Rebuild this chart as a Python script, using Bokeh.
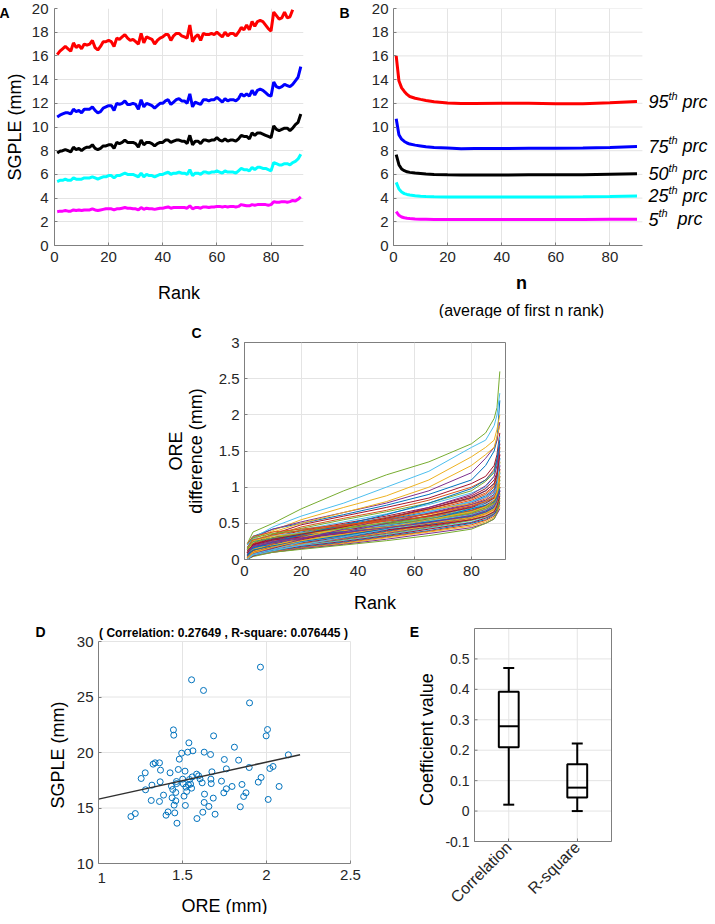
import math
from bokeh.plotting import figure
from bokeh.models import FixedTicker, Range1d, CustomJSTickFormatter, LinearAxis, Title
from bokeh.layouts import column, row
from bokeh.embed import file_html
from bokeh.resources import INLINE
from bokeh.core.properties import value

FONT = "Liberation Sans"
AX = "#7f7f7f"
TXT = "#262626"
GRID = "#e4e4e4"

# ---------------- Panel A data ----------------
rank_a = list(range(1, 92))
a_red = [16.1, 16.4, 16.6, 16.8, 16.6, 16.4, 17.1, 16.7, 16.9, 16.6,
         17.0, 16.9, 17.0, 17.3, 16.7, 16.5, 16.8, 17.2, 17.2, 17.3,
         17.2, 16.8, 17.5, 17.4, 17.6, 17.8, 17.5, 17.3, 17.4, 17.2,
         17.0, 17.9, 17.1, 17.6, 17.5, 17.4, 17.0, 17.3, 17.5, 17.6,
         17.8, 17.8, 17.3, 17.7, 17.9, 17.9, 17.7, 17.6, 17.5, 18.6,
         17.2, 17.6, 17.8, 17.3, 17.9, 17.8, 17.8, 17.9, 17.8, 18.0,
         17.8, 17.6, 18.0, 17.7, 17.9, 17.9, 17.7, 18.0, 18.4, 18.2,
         18.6, 18.2, 18.9, 18.5, 18.9, 19.0, 18.9, 18.6, 18.3, 18.1,
         19.7, 19.4, 19.1, 19.2, 19.7, 19.2, 19.3, 19.9]
a_blue = [10.85, 11.0, 11.1, 11.2, 11.2, 11.1, 11.5, 11.3, 11.4, 11.2,
          11.5, 11.5, 11.5, 11.7, 11.4, 11.2, 11.3, 11.6, 11.7, 11.8,
          11.8, 11.4, 12.0, 11.9, 12.0, 12.2, 11.9, 11.9, 12.0, 11.9,
          11.5, 12.3, 11.7, 12.0, 11.9, 11.8, 11.6, 11.8, 12.0, 12.0,
          12.2, 12.3, 11.9, 12.1, 12.3, 12.4, 12.2, 12.2, 12.0, 12.8,
          11.7, 12.1, 12.0, 11.9, 12.3, 12.3, 12.2, 12.3, 12.3, 12.5,
          12.3, 12.1, 12.4, 12.2, 12.3, 12.3, 12.2, 12.4, 12.8, 12.6,
          12.8, 12.6, 13.1, 12.7, 13.1, 13.2, 13.1, 12.9, 12.7, 12.6,
          13.8, 13.4, 13.3, 13.4, 13.6, 13.5, 13.4, 13.6, 13.9, 14.2,
          15.1]
a_black = [7.8, 7.95, 8.0, 8.1, 8.0, 7.9, 8.3, 8.1, 8.2, 8.0,
           8.2, 8.3, 8.3, 8.5, 8.2, 8.1, 8.2, 8.4, 8.4, 8.5,
           8.5, 8.2, 8.7, 8.6, 8.7, 8.9, 8.7, 8.7, 8.7, 8.6,
           8.3, 8.9, 8.5, 8.7, 8.7, 8.6, 8.4, 8.6, 8.7, 8.7,
           8.9, 8.9, 8.7, 8.8, 8.9, 8.9, 8.8, 8.8, 8.6, 9.3,
           8.5, 8.8, 8.8, 8.6, 8.9, 8.9, 8.8, 8.9, 8.9, 9.1,
           8.9, 8.8, 9.0, 8.8, 8.9, 8.9, 8.8, 9.0, 9.3, 9.2,
           9.2, 9.0, 9.5, 9.3, 9.5, 9.5, 9.4, 9.3, 9.2, 9.1,
           10.1, 9.8, 9.7, 9.8, 9.9, 9.9, 9.7, 9.9, 10.2, 10.4,
           11.1]
a_cyan = [5.4, 5.5, 5.5, 5.6, 5.5, 5.5, 5.7, 5.6, 5.6, 5.6,
          5.7, 5.7, 5.7, 5.8, 5.7, 5.6, 5.7, 5.8, 5.8, 5.9,
          5.9, 5.7, 5.9, 5.9, 6.0, 6.1, 6.0, 6.0, 6.0, 5.9,
          5.8, 6.1, 5.8, 6.0, 5.9, 5.9, 5.8, 5.9, 6.0, 6.0,
          6.1, 6.2, 6.0, 6.1, 6.1, 6.2, 6.1, 6.1, 6.0, 6.4,
          5.9, 6.1, 6.1, 6.0, 6.2, 6.2, 6.1, 6.2, 6.2, 6.3,
          6.2, 6.1, 6.3, 6.2, 6.2, 6.2, 6.1, 6.3, 6.5, 6.4,
          6.4, 6.3, 6.6, 6.4, 6.6, 6.6, 6.5, 6.5, 6.4, 6.3,
          7.0, 6.9, 6.8, 6.8, 6.9, 6.9, 6.8, 7.0, 7.1, 7.3,
          7.7]
a_mag = [2.85, 2.9, 2.9, 2.95, 2.9, 2.9, 3.0, 2.95, 3.0, 2.95,
         3.0, 3.0, 3.0, 3.1, 3.0, 2.95, 3.0, 3.05, 3.1, 3.1,
         3.1, 3.0, 3.1, 3.1, 3.15, 3.2, 3.15, 3.15, 3.1, 3.1,
         3.0, 3.2, 3.05, 3.15, 3.1, 3.1, 3.05, 3.1, 3.15, 3.15,
         3.2, 3.25, 3.15, 3.2, 3.2, 3.2, 3.2, 3.2, 3.15, 3.35,
         3.1, 3.2, 3.2, 3.15, 3.25, 3.25, 3.2, 3.25, 3.25, 3.3,
         3.3, 3.25, 3.3, 3.25, 3.3, 3.3, 3.25, 3.3, 3.45, 3.4,
         3.35, 3.35, 3.45, 3.4, 3.45, 3.45, 3.45, 3.45, 3.4, 3.45,
         3.7, 3.65, 3.65, 3.7, 3.7, 3.65, 3.7, 3.8, 3.75, 3.9,
         4.1]

# ---------------- Panel B data ----------------
n_b = [1, 2, 3, 4, 5, 6, 8, 10, 12, 15, 20, 25, 30, 40, 50, 60, 70, 80, 90]
b_red = [16.0, 13.9, 13.3, 13.0, 12.75, 12.57, 12.43, 12.33, 12.24, 12.13,
         12.03, 11.98, 11.98, 12.0, 12.0, 11.97, 11.97, 12.05, 12.15]
b_blue = [10.7, 9.35, 8.97, 8.78, 8.65, 8.56, 8.47, 8.4, 8.33, 8.27,
          8.22, 8.16, 8.18, 8.18, 8.2, 8.2, 8.22, 8.28, 8.36]
b_black = [7.66, 6.82, 6.45, 6.31, 6.22, 6.17, 6.11, 6.07, 6.03, 6.0,
           5.97, 5.95, 5.95, 5.95, 5.96, 5.96, 5.98, 6.02, 6.06]
b_cyan = [5.33, 4.77, 4.52, 4.38, 4.31, 4.26, 4.2, 4.15, 4.13, 4.11,
          4.1, 4.1, 4.1, 4.1, 4.1, 4.1, 4.11, 4.14, 4.18]
b_mag = [2.86, 2.55, 2.41, 2.34, 2.3, 2.27, 2.24, 2.22, 2.21, 2.19,
         2.19, 2.19, 2.19, 2.19, 2.19, 2.19, 2.2, 2.21, 2.22]
prc_numbers = ["95", "75", "50", "25", "5"]

# ---------------- Panel C data ----------------
rank_c = [1, 3, 10, 20, 35, 50, 65, 80, 85, 88, 89, 90]
c_lines = [
    [0.20, 0.32, 0.42, 0.50, 0.62, 0.75, 0.90, 1.10, 1.30, 1.50, 1.65, 2.20],
    [0.05, 0.20, 0.33, 0.45, 0.57, 0.68, 0.82, 1.00, 1.10, 1.25, 1.40, 1.60],
    [0.12, 0.28, 0.40, 0.55, 0.72, 0.88, 1.10, 1.42, 1.55, 1.65, 1.80, 2.00],
    [0.14, 0.30, 0.42, 0.52, 0.65, 0.78, 0.95, 1.20, 1.40, 1.55, 1.65, 1.90],
    [0.22, 0.38, 0.50, 0.70, 0.95, 1.17, 1.35, 1.60, 1.75, 1.95, 2.10, 2.60],
    [0.15, 0.30, 0.45, 0.60, 0.78, 1.00, 1.22, 1.55, 1.65, 1.85, 2.00, 2.30],
    [0.10, 0.22, 0.35, 0.48, 0.60, 0.72, 0.85, 1.05, 1.15, 1.30, 1.45, 1.75],
    [0.06, 0.18, 0.28, 0.38, 0.48, 0.58, 0.70, 0.85, 0.95, 1.05, 1.18, 1.50],
    [0.15, 0.22, 0.30, 0.37, 0.47, 0.56, 0.68, 0.82, 0.90, 1.00, 1.10, 1.35],
    [0.10, 0.25, 0.38, 0.50, 0.65, 0.80, 1.00, 1.30, 1.45, 1.55, 1.70, 1.85],
    [0.10, 0.18, 0.26, 0.35, 0.45, 0.54, 0.64, 0.78, 0.86, 0.95, 1.05, 1.30],
    [0.12, 0.25, 0.35, 0.43, 0.55, 0.66, 0.78, 0.95, 1.08, 1.20, 1.35, 1.55],
    [0.08, 0.20, 0.30, 0.41, 0.52, 0.63, 0.76, 0.92, 1.00, 1.15, 1.30, 1.70],
    [0.10, 0.20, 0.30, 0.40, 0.50, 0.60, 0.72, 0.88, 0.98, 1.10, 1.20, 1.45],
    [0.05, 0.15, 0.27, 0.36, 0.46, 0.55, 0.66, 0.80, 0.88, 0.97, 1.08, 1.40],
    [0.03, 0.14, 0.25, 0.34, 0.44, 0.53, 0.63, 0.76, 0.84, 0.93, 1.02, 1.25],
    [0.12, 0.18, 0.25, 0.33, 0.42, 0.51, 0.61, 0.74, 0.82, 0.90, 1.00, 1.20],
    [0.07, 0.15, 0.24, 0.32, 0.41, 0.50, 0.60, 0.73, 0.80, 0.88, 0.97, 1.15],
    [0.04, 0.13, 0.23, 0.31, 0.40, 0.49, 0.59, 0.71, 0.78, 0.86, 0.95, 1.35],
    [0.09, 0.16, 0.22, 0.30, 0.39, 0.48, 0.58, 0.70, 0.77, 0.84, 0.92, 1.10],
    [0.02, 0.12, 0.21, 0.29, 0.38, 0.47, 0.56, 0.68, 0.75, 0.82, 0.90, 1.05],
    [0.11, 0.17, 0.21, 0.28, 0.37, 0.46, 0.55, 0.67, 0.74, 0.80, 0.88, 1.20],
    [0.05, 0.12, 0.20, 0.27, 0.36, 0.45, 0.54, 0.65, 0.72, 0.79, 0.86, 1.00],
    [0.08, 0.14, 0.20, 0.27, 0.35, 0.44, 0.53, 0.64, 0.70, 0.77, 0.85, 1.10],
    [0.00, 0.10, 0.19, 0.26, 0.34, 0.43, 0.52, 0.63, 0.69, 0.76, 0.83, 0.95],
    [0.06, 0.12, 0.18, 0.25, 0.33, 0.42, 0.51, 0.62, 0.68, 0.75, 0.82, 1.15],
    [0.03, 0.10, 0.18, 0.24, 0.32, 0.41, 0.50, 0.60, 0.66, 0.73, 0.80, 0.90],
    [0.07, 0.12, 0.17, 0.23, 0.31, 0.40, 0.49, 0.59, 0.65, 0.72, 0.79, 1.00],
    [0.01, 0.09, 0.16, 0.22, 0.30, 0.39, 0.48, 0.58, 0.64, 0.70, 0.77, 0.88],
    [0.05, 0.10, 0.16, 0.22, 0.29, 0.38, 0.47, 0.57, 0.63, 0.69, 0.75, 0.92],
    [0.02, 0.08, 0.15, 0.21, 0.28, 0.37, 0.46, 0.56, 0.62, 0.68, 0.74, 0.85],
    [0.04, 0.09, 0.14, 0.20, 0.28, 0.36, 0.45, 0.55, 0.60, 0.66, 0.72, 0.95],
    [0.00, 0.07, 0.13, 0.19, 0.27, 0.35, 0.44, 0.54, 0.59, 0.65, 0.71, 0.82],
    [0.03, 0.08, 0.13, 0.19, 0.26, 0.34, 0.43, 0.52, 0.58, 0.64, 0.70, 0.90],
    [0.01, 0.06, 0.12, 0.18, 0.25, 0.33, 0.42, 0.51, 0.57, 0.63, 0.69, 0.80],
    [0.02, 0.07, 0.12, 0.17, 0.24, 0.32, 0.40, 0.50, 0.55, 0.62, 0.68, 0.78],
    [0.00, 0.05, 0.11, 0.16, 0.23, 0.31, 0.39, 0.48, 0.54, 0.60, 0.66, 0.75],
    [0.02, 0.06, 0.10, 0.15, 0.22, 0.30, 0.38, 0.46, 0.52, 0.58, 0.64, 0.72],
    [0.00, 0.05, 0.10, 0.15, 0.21, 0.28, 0.36, 0.44, 0.50, 0.56, 0.63, 0.70],
    [0.00, 0.04, 0.10, 0.14, 0.20, 0.26, 0.33, 0.42, 0.50, 0.56, 0.65, 0.85],
    [0.20, 0.28, 0.33, 0.37, 0.42, 0.47, 0.53, 0.62, 0.68, 0.75, 0.82, 1.10],
    [0.00, 0.05, 0.15, 0.27, 0.40, 0.50, 0.60, 0.72, 0.78, 0.85, 0.95, 1.25],
    [0.18, 0.25, 0.29, 0.33, 0.39, 0.45, 0.52, 0.60, 0.66, 0.72, 0.80, 0.95],
    [0.02, 0.10, 0.22, 0.33, 0.46, 0.58, 0.70, 0.84, 0.92, 1.02, 1.15, 1.55],
    [0.10, 0.26, 0.32, 0.36, 0.40, 0.45, 0.50, 0.58, 0.64, 0.70, 0.78, 0.90],
    [0.04, 0.08, 0.16, 0.28, 0.42, 0.56, 0.72, 0.90, 1.02, 1.15, 1.30, 1.60],
    [0.16, 0.30, 0.36, 0.40, 0.44, 0.49, 0.55, 0.64, 0.72, 0.80, 0.90, 1.05],
    [0.01, 0.07, 0.14, 0.24, 0.37, 0.52, 0.66, 0.80, 0.86, 0.92, 1.00, 1.20],
    [0.12, 0.20, 0.27, 0.31, 0.36, 0.41, 0.47, 0.55, 0.60, 0.66, 0.74, 0.88],
    [0.06, 0.16, 0.24, 0.34, 0.48, 0.62, 0.78, 0.98, 1.10, 1.22, 1.38, 1.65],
    [0.22, 0.32, 0.38, 0.42, 0.48, 0.53, 0.59, 0.68, 0.74, 0.80, 0.88, 1.00],
    [0.03, 0.11, 0.19, 0.30, 0.44, 0.57, 0.69, 0.77, 0.81, 0.86, 0.93, 1.10],
    [0.08, 0.18, 0.23, 0.29, 0.38, 0.50, 0.64, 0.76, 0.82, 0.90, 0.98, 1.30],
    [0.14, 0.24, 0.30, 0.36, 0.43, 0.51, 0.57, 0.66, 0.71, 0.78, 0.86, 1.00],
    [0.00, 0.06, 0.12, 0.20, 0.31, 0.42, 0.55, 0.70, 0.79, 0.88, 0.99, 1.40],
    [0.09, 0.21, 0.28, 0.35, 0.45, 0.57, 0.70, 0.86, 0.95, 1.05, 1.16, 1.45],
    [0.05, 0.13, 0.19, 0.25, 0.33, 0.43, 0.55, 0.70, 0.75, 0.80, 0.86, 0.98],
    [0.17, 0.27, 0.34, 0.40, 0.47, 0.55, 0.63, 0.74, 0.80, 0.86, 0.94, 1.15],
    [0.02, 0.09, 0.17, 0.26, 0.35, 0.44, 0.55, 0.66, 0.73, 0.82, 0.92, 1.22],
    [0.11, 0.19, 0.25, 0.30, 0.37, 0.44, 0.51, 0.61, 0.67, 0.74, 0.81, 0.95],
]
matlab_colors = ["#0072BD", "#D95319", "#EDB120", "#7E2F8E", "#77AC30", "#4DBEEE", "#A2142F"]

# ---------------- Panel D data ----------------
d_ore = [1.193, 1.219, 1.254, 1.278, 1.280, 1.314, 1.318, 1.325, 1.337, 1.363,
         1.363, 1.367, 1.369, 1.387, 1.402, 1.414, 1.426, 1.434, 1.438, 1.442,
         1.446, 1.448, 1.450, 1.454, 1.460, 1.460, 1.464, 1.465, 1.467, 1.475,
         1.481, 1.495, 1.501, 1.505, 1.509, 1.515, 1.517, 1.521, 1.525, 1.531,
         1.535, 1.538, 1.542, 1.548, 1.554, 1.554, 1.562, 1.558, 1.584, 1.586,
         1.596, 1.604, 1.617, 1.621, 1.625, 1.629, 1.631, 1.629, 1.657, 1.667,
         1.669, 1.671, 1.675, 1.683, 1.685, 1.694, 1.732, 1.746, 1.749, 1.761,
         1.761, 1.795, 1.809, 1.834, 1.844, 1.854, 1.864, 1.878, 1.897, 1.899,
         1.951, 1.964, 1.968, 1.998, 2.006, 2.010, 2.020, 2.039, 2.075, 2.130]
d_sgple = [14.23, 14.50, 17.66, 18.17, 16.64, 15.68, 17.06, 18.95, 19.07, 19.07,
           15.59, 17.36, 18.41, 16.16, 14.35, 14.65, 18.17, 16.97, 15.92, 16.67,
           22.04, 21.56, 15.26, 14.56, 15.65, 16.40, 17.39, 17.20, 13.63, 18.47,
           19.40, 19.94, 17.60, 17.18, 16.07, 18.32, 15.23, 16.88, 16.49, 20.03,
           17.09, 20.87, 17.57, 17.15, 26.55, 16.79, 20.15, 17.80, 18.05, 14.05,
           17.90, 17.63, 17.27, 14.62, 25.59, 20.03, 16.25, 15.50, 15.14, 19.82,
           17.60, 17.20, 18.26, 15.89, 21.50, 14.44, 17.42, 16.37, 19.37, 18.53,
           16.73, 16.94, 20.48, 19.31, 15.11, 17.12, 16.04, 16.37, 18.65, 24.47,
           17.33, 27.69, 17.75, 21.50, 22.07, 15.77, 18.56, 18.74, 16.94, 19.79]
d_fit_x = [1.0, 2.2]
d_fit_y = [15.8, 19.8]
d_title = "( Correlation: 0.27649 , R-square: 0.076445 )"

# ---------------- Panel E data ----------------
e_cats = ["Correlation", "R-square"]
e_pos = [1, 2]
e_lo = [0.021, 0.0]
e_q1 = [0.21, 0.045]
e_med = [0.279, 0.077]
e_q3 = [0.392, 0.154]
e_hi = [0.47, 0.222]

# ---------------- helpers ----------------
W_REG = {"(": .333, ")": .333, " ": .278, "a": .556, "v": .5, "e": .556, "r": .333, "g": .556,
         "o": .556, "f": .278, "i": .222, "s": .5, "t": .278, "n": .556, "k": .5, "h": .556,
         "p": .556, "c": .5}
for dch in "0123456789":
    W_REG[dch] = .556


def tw(s, size):
    return sum(W_REG.get(ch, 0.556) for ch in s) * size


num_fmt = CustomJSTickFormatter(code="return tick.toString();")


def make_fig(w, h, l, r, t, b, xr, yr):
    p = figure(width=w, height=h, x_range=Range1d(*xr), y_range=Range1d(*yr),
               output_backend="svg", toolbar_location=None,
               min_border_left=l, min_border_right=r, min_border_top=t, min_border_bottom=b)
    p.outline_line_color = None
    p.background_fill_color = "white"
    p.border_fill_color = "white"
    return p


def style_axis(ax, ticks, size="15px", standoff=5, label=None, lsize="18px",
               lstandoff=5, fmt=True):
    ax.ticker = FixedTicker(ticks=ticks)
    if fmt:
        ax.formatter = num_fmt
    ax.major_label_text_font = FONT
    ax.major_label_text_font_size = size
    ax.major_label_text_color = TXT
    ax.major_label_standoff = standoff
    ax.axis_line_color = AX
    ax.axis_line_width = 1
    ax.major_tick_line_color = AX
    ax.major_tick_in = 3
    ax.major_tick_out = 0
    ax.minor_tick_line_color = None
    ax.axis_label = label
    ax.axis_label_text_font = FONT
    ax.axis_label_text_font_size = lsize
    ax.axis_label_text_font_style = "normal"
    ax.axis_label_text_color = "black"
    ax.axis_label_standoff = lstandoff


def style_grid(grid, ticks):
    grid.ticker = FixedTicker(ticks=ticks)
    grid.grid_line_color = GRID
    grid.grid_line_width = 1


def letter_axis(p, txt, ypos, standoff):
    ax = LinearAxis(ticker=FixedTicker(ticks=[ypos]),
                    formatter=CustomJSTickFormatter(code="return '%s';" % txt),
                    axis_line_color=None, major_tick_line_color=None, minor_tick_line_color=None,
                    major_label_standoff=standoff, major_label_text_font=FONT,
                    major_label_text_font_size="14px", major_label_text_font_style="bold",
                    major_label_text_color="black")
    p.add_layout(ax, "left")


# ---------------- Panel A ----------------
pa = make_fig(340, 322, 50, 33, 12, 72, (0, 92), (0, 20))
style_axis(pa.xaxis[0], [0, 20, 40, 60, 80], label="Rank", lstandoff=18, standoff=6)
style_axis(pa.yaxis[0], list(range(0, 21, 2)), label="SGPLE (mm)", lstandoff=4, standoff=6)
style_grid(pa.xgrid[0], [0, 20, 40, 60, 80])
style_grid(pa.ygrid[0], list(range(0, 21, 2)))
pa.line(rank_a[:len(a_red)], a_red, line_color="#FF0000", line_width=3)
pa.line(rank_a[:len(a_blue)], a_blue, line_color="#0000FF", line_width=3)
pa.line(rank_a[:len(a_black)], a_black, line_color="#000000", line_width=3)
pa.line(rank_a[:len(a_cyan)], a_cyan, line_color="#00FFFF", line_width=3)
pa.line(rank_a[:len(a_mag)], a_mag, line_color="#FF00FF", line_width=3)
letter_axis(pa, "A", 19.6, -14)

# ---------------- Panel B ----------------
B_XMAX = 92
b_frame_px = 325
b_xend = B_XMAX * b_frame_px / 256.0
pb = make_fig(373, 322, 48, 0, 12, 72, (0, b_xend), (0, 20))
style_axis(pb.xaxis[0], [0, 20, 40, 60, 80], standoff=6)
pb.xaxis[0].bounds = (0, B_XMAX)
style_axis(pb.yaxis[0], list(range(0, 21, 2)), standoff=5)
style_grid(pb.xgrid[0], [0, 20, 40, 60, 80])
pb.ygrid[0].grid_line_color = None
b_gy = list(range(2, 21, 2))
pb.segment(x0=[0] * len(b_gy), x1=[B_XMAX] * len(b_gy), y0=b_gy, y1=b_gy,
           line_color=GRID, line_width=1)
b_series = [b_red, b_blue, b_black, b_cyan, b_mag]
b_colors = ["#FF0000", "#0000FF", "#000000", "#00FFFF", "#FF00FF"]
for ys, col in zip(b_series, b_colors):
    pb.line(n_b, ys, line_color=col, line_width=3)

lab_y = [ys[-1] for ys in b_series]
x_num, x_th, x_prc = [], [], []
for num in prc_numbers:
    wn = tw(num, 18)
    gap = tw(" ", 18) * (2 if len(num) == 1 else 1)
    x_num.append(6)
    x_th.append(6 + wn)
    x_prc.append(6 + wn + tw("th", 11) + gap)
lab_x = [B_XMAX] * len(prc_numbers)
pb.text(x=lab_x, y=lab_y, text=prc_numbers, x_offset=x_num, text_font=value(FONT),
        text_font_size="18px", text_font_style="italic", text_align="left",
        text_baseline="middle", text_color="black")
pb.text(x=lab_x, y=lab_y, text=["th"] * 5, x_offset=x_th, y_offset=-6, text_font=value(FONT),
        text_font_size="11px", text_font_style="italic", text_align="left",
        text_baseline="middle", text_color="black")
pb.text(x=lab_x, y=lab_y, text=["prc"] * 5, x_offset=x_prc, text_font=value(FONT),
        text_font_size="18px", text_font_style="italic", text_align="left",
        text_baseline="middle", text_color="black")
letter_axis(pb, "B", 19.6, 13)

# x label "n" and second line, centred on the 0..92 part of the axis
b_center = 128
pb.add_layout(Title(text="n", align="left", offset=b_center - tw("n", 18) * 0.55,
                    text_font=FONT, text_font_size="18px", text_font_style="bold",
                    text_color="black", standoff=13), "below")
line2 = "(average of first n rank)"
pb.add_layout(Title(text=line2, align="left", offset=b_center - tw(line2, 16) / 2,
                    text_font=FONT, text_font_size="16px", text_font_style="normal",
                    text_color="black", standoff=0), "below")

# ---------------- Panel C ----------------
pc = make_fig(713, 302, 248, 204, 24, 61, (0, 92), (0, 3))
pc.outline_line_color = AX
style_axis(pc.xaxis[0], [0, 20, 40, 60, 80], label="Rank", lstandoff=14, standoff=6)
style_axis(pc.yaxis[0], [0, 0.5, 1, 1.5, 2, 2.5, 3], label="ORE\ndifference (mm)",
           lstandoff=10, standoff=5)
pc.yaxis[0].axis_label_text_line_height = 1.0
style_grid(pc.xgrid[0], [0, 20, 40, 60, 80])
style_grid(pc.ygrid[0], [0, 0.5, 1, 1.5, 2, 2.5, 3])
for i, ys in enumerate(c_lines):
    pc.line(rank_c, ys, line_color=matlab_colors[i % 7], line_width=1)
pc.add_layout(Title(text="C", align="left", offset=-53, text_font=FONT, text_font_size="14px",
                    text_font_style="bold", text_color="black", standoff=0,
                    vertical_align="top"), "above")

# ---------------- Panels D and E (one canvas, two scale systems) ----------------
# frame spans page x 102..713 and y 621..914
FR_L, FR_R, FR_T, FR_B = 102, 713, 621, 914
D_X0, D_X1, D_Y0, D_Y1 = 1.0, 2.5, 10, 30
D_PX_L, D_PX_R, D_PY_T, D_PY_B = 102, 354, 641, 863
d_xpu = (D_PX_R - D_PX_L) / (D_X1 - D_X0)
d_ypu = (D_PY_B - D_PY_T) / (D_Y1 - D_Y0)
d_xr = (D_X0 - (D_PX_L - FR_L) / d_xpu, D_X1 + (FR_R - D_PX_R) / d_xpu)
d_yr = (D_Y0 - (FR_B - D_PY_B) / d_ypu, D_Y1 + (D_PY_T - FR_T) / d_ypu)

E_X0, E_X1, E_Y0, E_Y1 = 0.5, 2.5, -0.1, 0.6
E_PX_L, E_PX_R, E_PY_T, E_PY_B = 478, 615, 628, 841
e_xpu = (E_PX_R - E_PX_L) / (E_X1 - E_X0)
e_ypu = (E_PY_B - E_PY_T) / (E_Y1 - E_Y0)
e_xr = (E_X0 - (E_PX_L - FR_L) / e_xpu, E_X1 + (FR_R - E_PX_R) / e_xpu)
e_yr = (E_Y0 - (FR_B - E_PY_B) / e_ypu, E_Y1 + (E_PY_T - FR_T) / e_ypu)

pd_ = make_fig(713, 294, FR_L, 0, 1, 0, d_xr, d_yr)
pd_.extra_x_ranges = {"e": Range1d(*e_xr)}
pd_.extra_y_ranges = {"e": Range1d(*e_yr)}
pd_.xgrid[0].grid_line_color = None
pd_.ygrid[0].grid_line_color = None

d_xt = [1, 1.5, 2, 2.5]
d_yt = [10, 15, 20, 25, 30]
# D grid
pd_.segment(x0=d_xt, x1=d_xt, y0=[D_Y0] * 4, y1=[D_Y1] * 4, line_color=GRID, line_width=1)
pd_.segment(x0=[D_X0] * 5, x1=[D_X1] * 5, y0=d_yt, y1=d_yt, line_color=GRID, line_width=1)
# D axes
style_axis(pd_.xaxis[0], d_xt, standoff=6)
pd_.xaxis[0].fixed_location = D_Y0
pd_.xaxis[0].bounds = (D_X0, D_X1)
# the first tick label sits on the frame edge; draw it as text just inside
pd_.xaxis[0].major_label_overrides = {1: ""}
pd_.text(x=[D_X0], y=[D_Y0 - 14.5 / d_ypu], text=["%g" % d_xt[0]], x_offset=-1,
         text_font=value(FONT), text_font_size="15px", text_align="left",
         text_baseline="middle", text_color=TXT)
style_axis(pd_.yaxis[0], d_yt, standoff=5)
pd_.yaxis[0].bounds = (D_Y0, D_Y1)
pd_.add_layout(Title(text="SGPLE (mm)", align="left", offset=FR_B - 808, text_font=FONT,
                     text_font_size="18px", text_font_style="normal", text_color="black",
                     standoff=12), "left")
letter_axis(pd_, "D", D_Y1 + 10 / d_ypu, -12)
pd_.text(x=[(D_X0 + D_X1) / 2], y=[D_Y0 - 42 / d_ypu], text=["ORE (mm)"], text_font=value(FONT),
         text_font_size="18px", text_align="center", text_baseline="middle", text_color="black")
# D data
pd_.scatter(d_ore, d_sgple, marker="circle", size=6, fill_color=None,
            line_color="#0072BD", line_width=1)
pd_.line(d_fit_x, d_fit_y, line_color="#303030", line_width=1.5)
pd_.text(x=[1.744], y=[D_Y1 + 9 / d_ypu], text=[d_title], text_font=value(FONT),
         text_font_size="12px", text_font_style="bold", text_align="center",
         text_baseline="middle", text_color="black")

# E grid and box
e_yt = [-0.1, 0, 0.1, 0.2, 0.3, 0.4, 0.5]
EKW = dict(x_range_name="e", y_range_name="e")
pd_.segment(x0=[E_X0] * len(e_yt), x1=[E_X1] * len(e_yt), y0=e_yt, y1=e_yt,
            line_color=GRID, line_width=1, **EKW)
pd_.segment(x0=e_pos, x1=e_pos, y0=[E_Y0] * 2, y1=[E_Y1] * 2, line_color=GRID, line_width=1,
            **EKW)
pd_.segment(x0=[E_X0, E_X1, E_X0], x1=[E_X1, E_X1, E_X0], y0=[E_Y1, E_Y0, E_Y0],
            y1=[E_Y1, E_Y1, E_Y1], line_color=AX, line_width=1, **EKW)
# E y axis: ticks and labels drawn in the frame
tick_len = 3 / e_xpu
pd_.segment(x0=[E_X0] * len(e_yt), x1=[E_X0 + tick_len] * len(e_yt), y0=e_yt, y1=e_yt,
            line_color=AX, line_width=1, **EKW)
pd_.text(x=[E_X0] * len(e_yt), y=e_yt, text=["%g" % t for t in e_yt], x_offset=-5,
         text_font=value(FONT), text_font_size="14px", text_align="right",
         text_baseline="middle", text_color=TXT, **EKW)
# E x axis (categories)
ex = LinearAxis(x_range_name="e", y_range_name="e")
style_axis(ex, e_pos, size="16px", standoff=3, fmt=False)
ex.major_label_overrides = {1: e_cats[0], 2: e_cats[1]}
ex.major_label_orientation = math.pi / 4
ex.fixed_location = E_Y0
ex.bounds = (E_X0, E_X1)
pd_.add_layout(ex, "below")
pd_.text(x=[E_X0 - 48 / e_xpu], y=[(E_Y0 + E_Y1) / 2 - 0.015], text=["Coefficient value"],
         angle=math.pi / 2, text_font=value(FONT), text_font_size="18px", text_align="center",
         text_baseline="middle", text_color="black", **EKW)
pd_.text(x=[E_X0 - 60 / e_xpu], y=[E_Y1 - 3 / e_ypu], text=["E"], text_font=value(FONT),
         text_font_size="14px", text_font_style="bold", text_align="center",
         text_baseline="middle", text_color="black", **EKW)
# E boxes
half_box = 0.145
half_cap = 0.08
pd_.quad(left=[x - half_box for x in e_pos], right=[x + half_box for x in e_pos],
         bottom=e_q1, top=e_q3, fill_color=None, line_color="black", line_width=2, **EKW)
pd_.segment(x0=[x - half_box for x in e_pos], x1=[x + half_box for x in e_pos],
            y0=e_med, y1=e_med, line_color="black", line_width=2, **EKW)
pd_.segment(x0=e_pos, x1=e_pos, y0=e_q3, y1=e_hi, line_color="black", line_width=2, **EKW)
pd_.segment(x0=e_pos, x1=e_pos, y0=e_lo, y1=e_q1, line_color="black", line_width=2, **EKW)
pd_.segment(x0=[x - half_cap for x in e_pos], x1=[x + half_cap for x in e_pos],
            y0=e_hi, y1=e_hi, line_color="black", line_width=2, **EKW)
pd_.segment(x0=[x - half_cap for x in e_pos], x1=[x + half_cap for x in e_pos],
            y0=e_lo, y1=e_lo, line_color="black", line_width=2, **EKW)

# wrapping the D/E canvas in a row keeps the column from aligning its frame with panel C
layout = column(row(pa, pb), pc, row(pd_), margin=(-4, 0, 0, -4))

open("out.html", "w").write(file_html(layout, INLINE))
